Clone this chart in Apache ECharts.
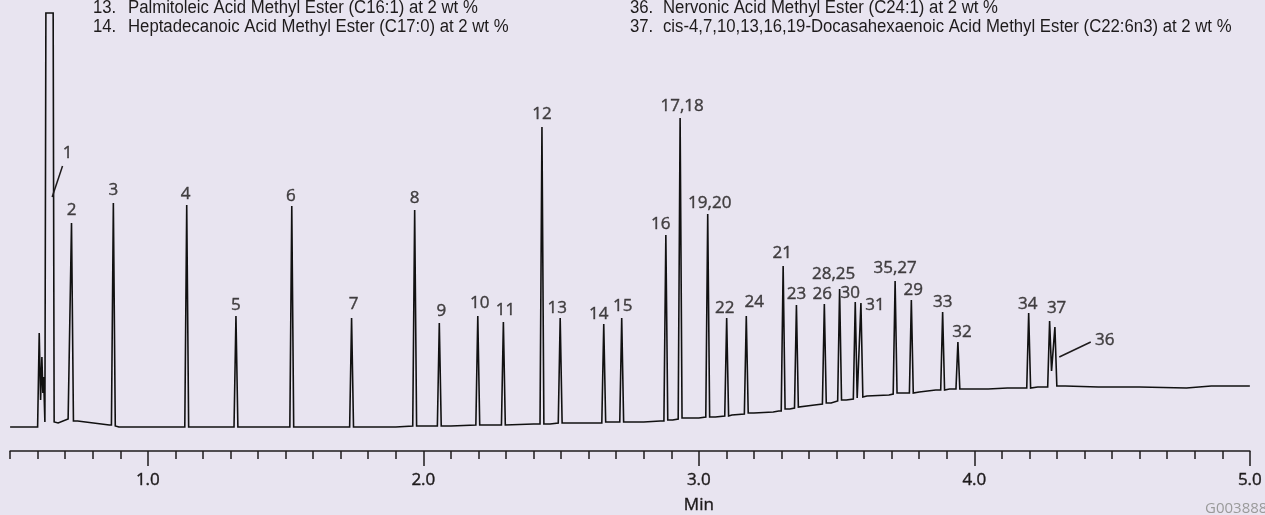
<!DOCTYPE html>
<html>
<head>
<meta charset="utf-8">
<title>FAME chromatogram</title>
<script src="https://cdn.jsdelivr.net/npm/echarts@6/dist/echarts.min.js"></script>
<style>
    html, body { margin: 0; padding: 0; background: #e8e4f0; }
    #chart { width: 1265px; height: 515px; }
</style>
</head>
<body>
<div id="chart"></div>
<script>
// retention time (min) / detector signal
const solventTrace = [
    [0.500, 0], [0.5999, 0], [0.6057, 94], [0.6107, 27], [0.6154, 70], [0.6190, 34],
    [0.6216, 50], [0.6263, 5], [0.6299, 414], [0.6563, 414], [0.6599, 5],
    [0.6744, 4], [0.7106, 8]
];

// [label, time, apex, foot left, foot right]
const peaks = [
    ['2', 0.7229, 204, 8, 6],
    ['3', 0.8748, 224, 2, 1],
    ['4', 1.1411, 222, 0, 0],
    ['5', 1.3198, 111, 0, 0],
    ['6', 1.5224, 221, 0, 0],
    ['7', 1.7395, 109, 0, 0],
    ['8', 1.9685, 217, 1, 1],
    ['9', 2.0579, 104, 1, 1],
    ['10', 2.1976, 111, 2, 2],
    ['11', 2.2905, 105, 2, 2],
    ['12', 2.4305, 300, 3, 3],
    ['13', 2.4967, 109, 4, 4],
    ['14', 2.6548, 103, 4, 5],
    ['15', 2.7200, 109, 5, 5],
    ['16', 2.8802, 192, 6, 7],
    ['17,18', 2.9320, 309, 8, 9],
    ['19,20', 3.0322, 213, 10, 10],
    ['22', 3.1010, 109, 11, 11],
    ['24', 3.1722, 111, 13, 14],
    ['21', 3.3060, 161, 16, 18],
    ['23', 3.3542, 122, 19, 20],
    ['26', 3.4555, 123, 23, 24],
    ['28,25', 3.5109, 138, 26, 27],
    ['30', 3.5677, 125, 28, 29],
    ['31', 3.5883, 124, 29, 30],
    ['35,27', 3.7124, 146, 33, 34],
    ['29', 3.7713, 127, 34, 34],
    ['33', 3.8849, 115, 37, 37],
    ['32', 3.9403, 85, 38, 38],
    ['34', 4.1972, 114, 39, 39],
    ['37', 4.2732, 106, 40, 56],
    ['36', 4.2924, 100, 56, 41]
];

const baseline = [
    [0.745, 6], [0.860, 2], [0.895, 0], [1.0, 0], [1.3, 0], [1.6, 0], [1.9, 0],
    [1.99, 1], [2.1, 1], [2.25, 2], [2.4, 3], [2.46, 3], [2.55, 4], [2.7, 5],
    [2.8, 5], [2.86, 6], [2.905, 7], [2.96, 9], [3.0, 9], [3.06, 10], [3.12, 12],
    [3.2, 14], [3.27, 15], [3.29, 16], [3.33, 18], [3.42, 22], [3.48, 24],
    [3.535, 27], [3.61, 31], [3.69, 32], [3.74, 34], [3.80, 35], [3.86, 37],
    [3.91, 38], [3.98, 38], [4.05, 38], [4.12, 39], [4.23, 40], [4.33, 41],
    [4.45, 40], [4.6, 40], [4.77, 39], [4.86, 41], [5.0, 41]
];

// leader lines: [label, time at peak, signal at peak, time at label, signal at label]
const pointers = [
    ['1', 0.6527, 230, 0.6903, 261],
    ['36', 4.3083, 70, 4.4226, 85]
];

const tickValues = [1.0, 2.0, 3.0, 4.0, 5.0];
const axisName = 'Min';
const figureCode = 'G003888';

const legendLeft = [
    ['13.', 'Palmitoleic Acid Methyl Ester (C16:1) at 2 wt %'],
    ['14.', 'Heptadecanoic Acid Methyl Ester (C17:0) at 2 wt %']
];
const legendRight = [
    ['36.', 'Nervonic Acid Methyl Ester (C24:1) at 2 wt %'],
    ['37.', 'cis-4,7,10,13,16,19-Docasahexaenoic Acid Methyl Ester (C22:6n3) at 2 wt %']
];

// label nudges in px (centre of text relative to apex)
const labelShift = {
    '2': [0, -13], '3': [0, -13], '4': [-1, -11], '5': [0, -11], '6': [-1, -10],
    '7': [2, -14], '8': [0, -12], '9': [2, -12], '10': [2, -13], '11': [2, -12],
    '12': [0, -13], '13': [-3, -10], '14': [-5, -10], '15': [1, -12], '16': [-5, -11],
    '17,18': [2, -12], '19,20': [2, -11], '22': [-2, -10], '24': [8, -14],
    '21': [-1, -13], '23': [0, -11], '26': [-2, -10], '28,25': [-6, -15],
    '30': [-5, -9], '31': [14, 2], '35,27': [0, -13], '29': [2, -10], '33': [0, -10],
    '32': [4, -10], '34': [-1, -9], '37': [7, -13],
    // pointer labels, relative to the far end of the leader
    '1': [5, -13], '36': [14, -2]
};

const INK = '#1e1b1c';
const NUM_FONT = '"Open Sans", "Noto Sans", sans-serif';
const HALF = 0.007;

const chart = echarts.init(document.getElementById('chart'));

function buildTrace() {
    const pts = solventTrace.concat(baseline);
    peaks.forEach(p => {
        pts.push([p[1] - HALF, p[3]], [p[1], p[2]], [p[1] + HALF, p[4]]);
    });
    return pts.sort((a, b) => a[0] - b[0]);
}

function buildLabels() {
    const pointed = pointers.map(p => p[0]);
    const out = peaks.filter(p => pointed.indexOf(p[0]) < 0)
        .map(p => ({ name: p[0], value: [p[1], p[2]] }));
    pointers.forEach(p => out.push({ name: p[0], value: [p[3], p[4]] }));
    return out.map(d => {
        d.label = { offset: labelShift[d.name] || [0, -12] };
        return d;
    });
}

const pointerSeries = pointers.map(p => ({
    type: 'line',
    data: [[p[1], p[2]], [p[3], p[4]]],
    symbol: 'none',
    silent: true,
    lineStyle: { color: INK, width: 1.5 }
}));

const textStyle = {
    color: INK, fontSize: 17, fontFamily: NUM_FONT,
    textBorderColor: INK, textBorderWidth: 0.4
};

const option = {
    backgroundColor: '#e8e4f0',
    animation: false,
    grid: { left: 10.1, right: 11.3, top: 0, bottom: 64 },
    xAxis: [
        {
            type: 'value', min: 0.5, max: 5.0, position: 'bottom',
            axisLine: { onZero: false, lineStyle: { color: INK, width: 1.5 } },
            axisTick: { customValues: tickValues, length: 15, lineStyle: { color: INK, width: 1.5 } },
            axisLabel: Object.assign({
                customValues: tickValues, margin: 21,
                formatter: v => v.toFixed(1)
            }, textStyle),
            splitLine: { show: false }
        },
        {
            type: 'value', min: 0.5, max: 5.0, interval: 0.1, position: 'bottom',
            axisLine: { show: false, onZero: false },
            axisTick: { length: 8, lineStyle: { color: INK, width: 1.5 } },
            axisLabel: { show: false },
            splitLine: { show: false }
        }
    ],
    yAxis: { type: 'value', min: -24, max: 427, show: false, splitLine: { show: false } },
    series: [
        {
            type: 'line',
            data: buildTrace(),
            symbol: 'none',
            silent: true,
            lineStyle: { color: '#111', width: 1.6, join: 'miter' }
        },
        {
            type: 'scatter',
            data: buildLabels(),
            symbolSize: 1,
            itemStyle: { color: 'rgba(0,0,0,0)' },
            silent: true,
            label: Object.assign({
                show: true, position: 'inside',
                formatter: p => p.name
            }, textStyle)
        }
    ].concat(pointerSeries)
};

chart.setOption(option);

// header lists (narrowed Arial-like face), axis name and figure code
const headFont = '18px "Liberation Sans", Arial, sans-serif';
const graphics = [];
[[legendLeft, 93, 128], [legendRight, 630, 663]].forEach(([rows, xNum, xText]) => {
    rows.forEach((r, i) => {
        const y = 8.5 + i * 19;
        [[xNum, r[0]], [xText, r[1]]].forEach(([x, t]) => {
            graphics.push({
                type: 'text', x: x, y: y, scaleX: 0.93,
                style: { text: t, font: headFont, fill: INK, verticalAlign: 'middle' }
            });
        });
    });
});
const minX = chart.convertToPixel({ xAxisIndex: 0 }, 3.0);
graphics.push({
    type: 'text', x: minX, y: 505,
    style: {
        text: axisName, font: '17px ' + NUM_FONT, fill: INK, align: 'center',
        verticalAlign: 'middle', stroke: INK, lineWidth: 0.4
    }
});
graphics.push({
    type: 'text', x: 1205, y: 509,
    style: { text: figureCode, font: '15px ' + NUM_FONT, fill: '#9a9a9a', align: 'left', verticalAlign: 'middle' }
});
chart.setOption({ graphic: graphics });
</script>
</body>
</html>
